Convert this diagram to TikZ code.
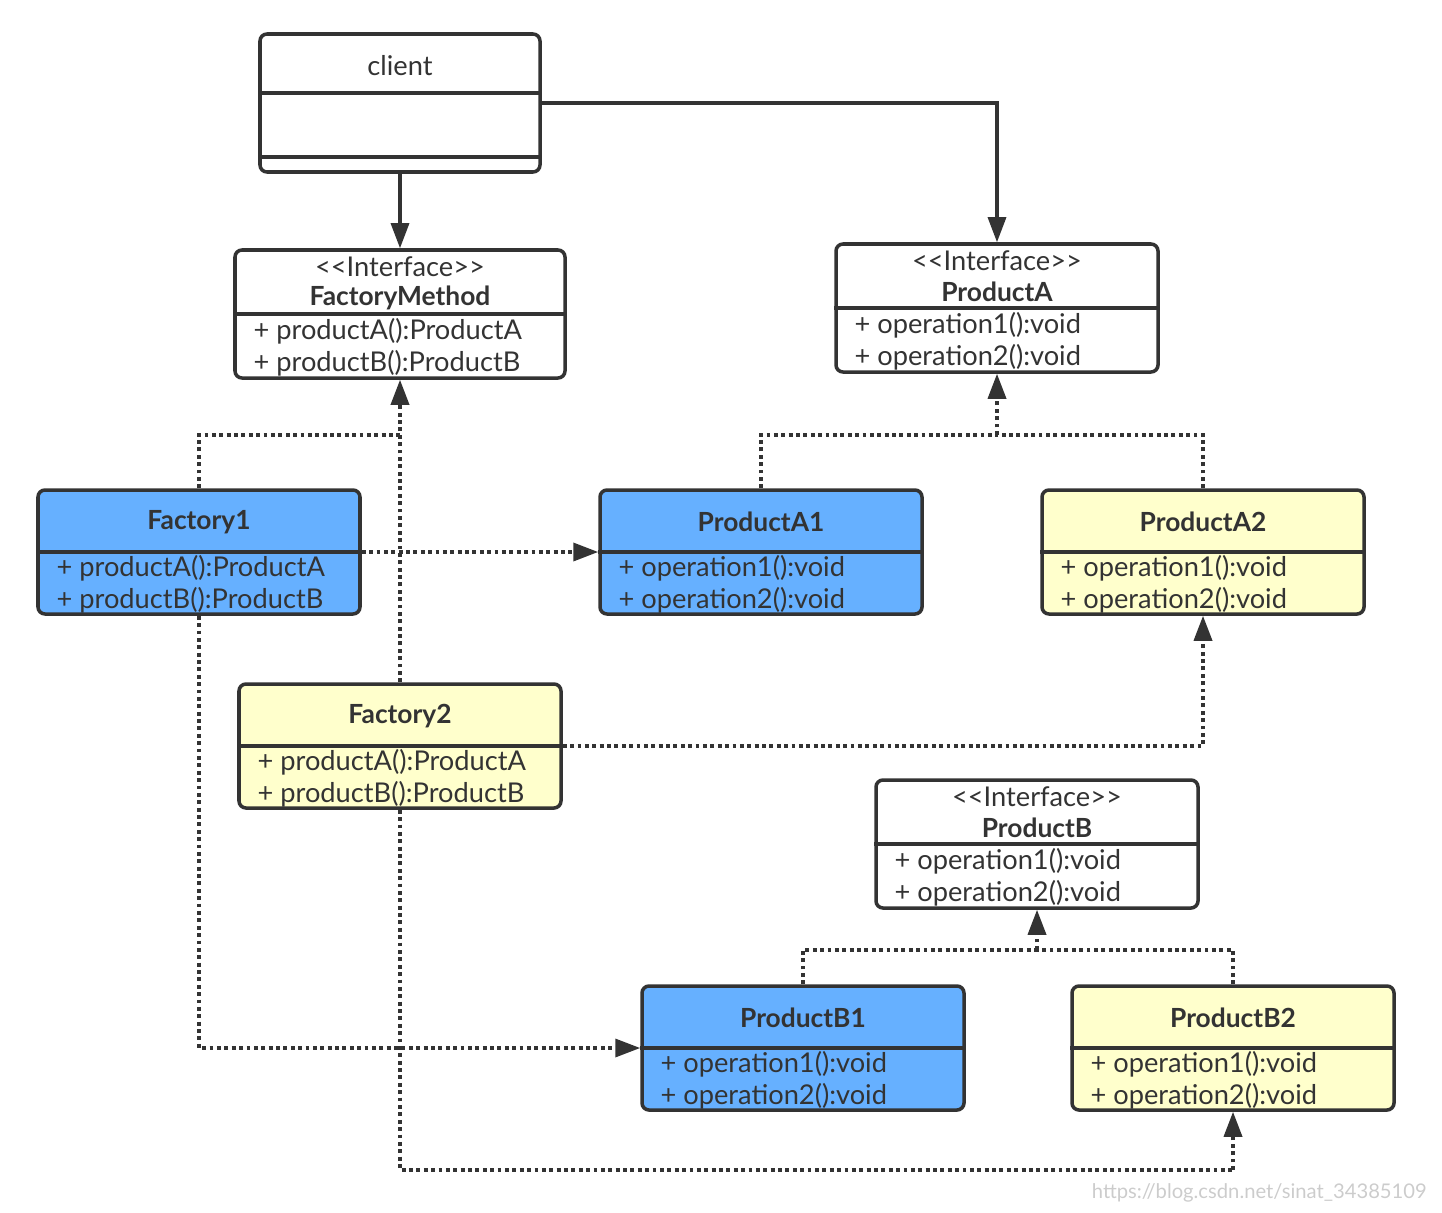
\documentclass[tikz,border=0pt]{standalone}
\usepackage{fontspec}
\setmainfont{Lato}
\usetikzlibrary{arrows.meta,positioning,calc}
\definecolor{linegray}{HTML}{333333}
\definecolor{boxblue}{HTML}{66B0FF}
\definecolor{boxyellow}{HTML}{FFFFCC}
\tikzset{
  classbox/.style={draw=linegray, line width=2pt, rounded corners=4pt, minimum width=6.44cm, minimum height=2.48cm, inner sep=0pt},
  ifacebox/.style={classbox, minimum height=2.56cm},
  clsname/.style={font=\bfseries\fontsize{15}{17}\selectfont, text=linegray, inner sep=0pt},
  stereo/.style={font=\fontsize{15.5}{17}\selectfont, text=linegray, inner sep=0pt},
  member/.style={anchor=west, font=\fontsize{15.5}{17}\selectfont, text=linegray, inner sep=0pt},
  divider/.style={draw=linegray, line width=2pt},
  assoc/.style={draw=linegray, line width=1.8pt, -{Triangle[length=0.5cm,width=0.36cm]}},
  realize/.style={draw=linegray, line width=2pt, dash pattern=on 2.2pt off 2pt},
  realizearrow/.style={realize, -{Triangle[length=0.5cm,width=0.36cm]}}
}
\newcommand{\iface}{<\kern0pt<Interface>\kern0pt>}

\begin{document}
\begin{tikzpicture}
  \useasboundingbox (0,0) rectangle (28.84,-24.24);

  % client
  \node[classbox, fill=white, minimum width=5.6cm, minimum height=2.76cm] (client) at (8.0,-2.06) {};
  \draw[divider] ([yshift=-1.22cm]client.north west) -- ([yshift=-1.22cm]client.north east);
  \draw[divider] ([yshift=0.34cm]client.south west) -- ([yshift=0.34cm]client.south east);
  \node[stereo] (clientname) at ([yshift=-0.66cm]client.north) {client};

  % interfaces
  \node[ifacebox, fill=white, minimum width=6.6cm] (fm) at (8.0,-6.28) {};
  \draw[divider] (fm.west) -- (fm.east);
  \node[stereo] (fmst) at ([yshift=-0.37cm]fm.north) {\iface};
  \node[clsname] (fmname) at ([yshift=-1.0cm]fm.north) {FactoryMethod};
  \node[member] (fmm1) at ([xshift=0.4cm,yshift=-0.34cm]fm.west) {+ productA():ProductA};
  \node[member] (fmm2) at ([xshift=0.4cm,yshift=-0.98cm]fm.west) {+ productB():ProductB};

  \node[ifacebox, fill=white] (pa) at (19.94,-6.16) {};
  \draw[divider] (pa.west) -- (pa.east);
  \node[stereo] (past) at ([yshift=-0.37cm]pa.north) {\iface};
  \node[clsname] (paname) at ([yshift=-1.0cm]pa.north) {ProductA};
  \node[member] (pam1) at ([xshift=0.4cm,yshift=-0.34cm]pa.west) {+ operation1():void};
  \node[member] (pam2) at ([xshift=0.4cm,yshift=-0.98cm]pa.west) {+ operation2():void};

  \node[ifacebox, fill=white] (pb) at (20.74,-16.88) {};
  \draw[divider] (pb.west) -- (pb.east);
  \node[stereo] (pbst) at ([yshift=-0.37cm]pb.north) {\iface};
  \node[clsname] (pbname) at ([yshift=-1.0cm]pb.north) {ProductB};
  \node[member] (pbm1) at ([xshift=0.4cm,yshift=-0.34cm]pb.west) {+ operation1():void};
  \node[member] (pbm2) at ([xshift=0.4cm,yshift=-0.98cm]pb.west) {+ operation2():void};

  % factories
  \node[classbox, fill=boxblue] (f1) at (3.98,-11.04) {};
  \draw[divider] (f1.west) -- (f1.east);
  \node[clsname] (f1name) at ([yshift=-0.68cm]f1.north) {Factory1};
  \node[member] (f1m1) at ([xshift=0.4cm,yshift=-0.32cm]f1.west) {+ productA():ProductA};
  \node[member] (f1m2) at ([xshift=0.4cm,yshift=-0.96cm]f1.west) {+ productB():ProductB};

  \node[classbox, fill=boxyellow] (f2) at (8.0,-14.92) {};
  \draw[divider] (f2.west) -- (f2.east);
  \node[clsname] (f2name) at ([yshift=-0.68cm]f2.north) {Factory2};
  \node[member] (f2m1) at ([xshift=0.4cm,yshift=-0.32cm]f2.west) {+ productA():ProductA};
  \node[member] (f2m2) at ([xshift=0.4cm,yshift=-0.96cm]f2.west) {+ productB():ProductB};

  % products
  \node[classbox, fill=boxblue] (pa1) at (15.22,-11.04) {};
  \draw[divider] (pa1.west) -- (pa1.east);
  \node[clsname] (pa1name) at ([yshift=-0.68cm]pa1.north) {ProductA1};
  \node[member] (pa1m1) at ([xshift=0.4cm,yshift=-0.32cm]pa1.west) {+ operation1():void};
  \node[member] (pa1m2) at ([xshift=0.4cm,yshift=-0.96cm]pa1.west) {+ operation2():void};

  \node[classbox, fill=boxyellow] (pa2) at (24.06,-11.04) {};
  \draw[divider] (pa2.west) -- (pa2.east);
  \node[clsname] (pa2name) at ([yshift=-0.68cm]pa2.north) {ProductA2};
  \node[member] (pa2m1) at ([xshift=0.4cm,yshift=-0.32cm]pa2.west) {+ operation1():void};
  \node[member] (pa2m2) at ([xshift=0.4cm,yshift=-0.96cm]pa2.west) {+ operation2():void};

  \node[classbox, fill=boxblue] (pb1) at (16.06,-20.96) {};
  \draw[divider] (pb1.west) -- (pb1.east);
  \node[clsname] (pb1name) at ([yshift=-0.68cm]pb1.north) {ProductB1};
  \node[member] (pb1m1) at ([xshift=0.4cm,yshift=-0.32cm]pb1.west) {+ operation1():void};
  \node[member] (pb1m2) at ([xshift=0.4cm,yshift=-0.96cm]pb1.west) {+ operation2():void};

  \node[classbox, fill=boxyellow] (pb2) at (24.66,-20.96) {};
  \draw[divider] (pb2.west) -- (pb2.east);
  \node[clsname] (pb2name) at ([yshift=-0.68cm]pb2.north) {ProductB2};
  \node[member] (pb2m1) at ([xshift=0.4cm,yshift=-0.32cm]pb2.west) {+ operation1():void};
  \node[member] (pb2m2) at ([xshift=0.4cm,yshift=-0.96cm]pb2.west) {+ operation2():void};

  % junctions
  \coordinate (fmj) at ([yshift=-1.1cm]fm.south);
  \coordinate (paj) at ([yshift=-1.22cm]pa.south);
  \coordinate (pbj) at ([yshift=-0.8cm]pb.south);
  \coordinate (pb2j) at ([yshift=-1.16cm]pb2.south);

  % client uses
  \draw[assoc] (client.south) -- (fm.north);
  \draw[assoc] (client.east) -| (pa.north);

  % realizations
  \draw[realize] (f1.north) |- (fmj);
  \draw[realizearrow] (f2.north) -- (fm.south);
  \draw[realize] (pa1.north) |- (paj);
  \draw[realize] (pa2.north) |- (paj);
  \draw[realizearrow] (paj) -- (pa.south);
  \draw[realize] (pb1.north) |- (pbj);
  \draw[realize] (pb2.north) |- (pbj);
  \draw[realizearrow] (pbj) -- (pb.south);

  % creates
  \draw[realizearrow] (f1.east) -- (pa1.west);
  \draw[realizearrow] (f1.south) |- (pb1.west);
  \draw[realizearrow] (f2.east) -| (pa2.south);
  \draw[realize] (f2.south) |- (pb2j);
  \draw[realizearrow] (pb2j) -- (pb2.south);

  \node[anchor=east, text=black!20, font=\fontsize{11.5}{13}\selectfont] (mark) at (28.66,-23.86) {https://blog.csdn.net/sinat\_34385109};
\end{tikzpicture}
\end{document}
